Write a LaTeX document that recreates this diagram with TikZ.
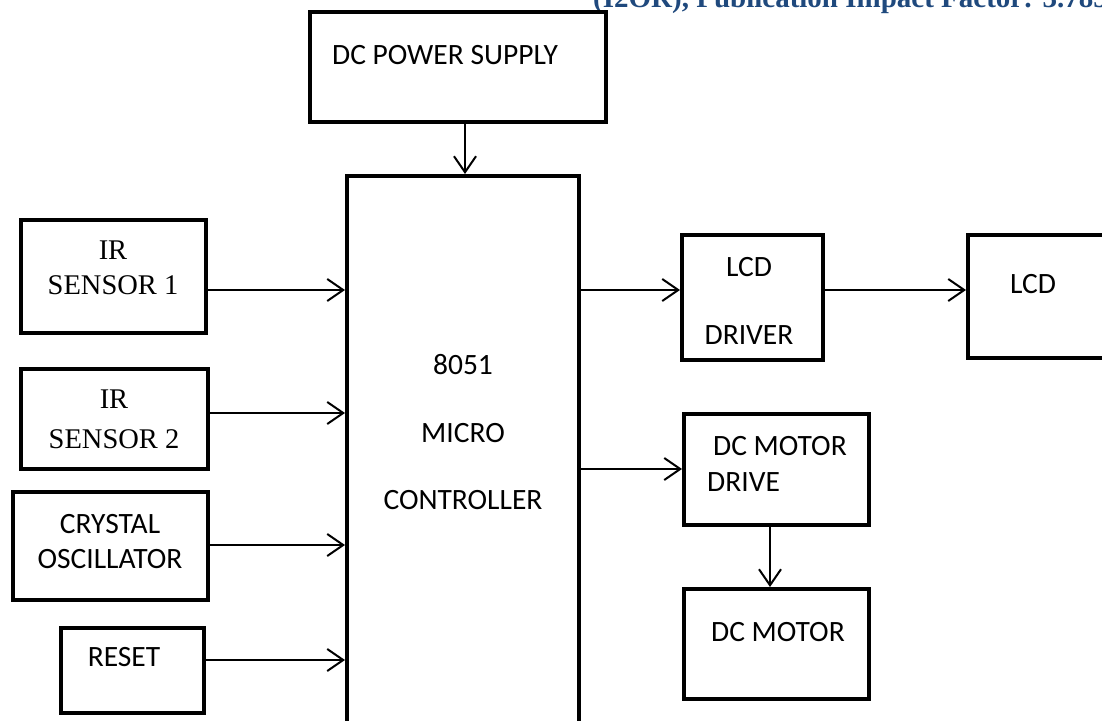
\documentclass[tikz,border=0pt]{standalone}
\usepackage{fontspec}
\setmainfont{Liberation Serif}
\newfontfamily\calfont{Carlito}
\usepackage{xcolor}
\usepackage{tikz}
\usetikzlibrary{arrows.meta}
\definecolor{HeaderBlue}{RGB}{31,73,125}

\tikzset{
  blk/.style={draw,line width=4pt,inner sep=0pt,minimum width=#1},
  sig/.style={-{Straight Barb[length=16pt,width=22pt]},line width=2pt},
  lbl/.style={inner sep=0pt,font=\calfont\fontsize{29.5}{35}\selectfont},
  lblserif/.style={inner sep=0pt,align=center,font=\fontsize{28.5}{35}\selectfont}
}

\begin{document}
\begin{tikzpicture}[x=1pt,y=-1pt]
  \useasboundingbox (0,0) rectangle (1102,720);
  \clip (0,0) rectangle (1102,720);

  % cabecera cortada de la pagina
  \node[anchor=base west,inner sep=0pt,text=HeaderBlue,
        font=\bfseries\fontsize{29}{34}\selectfont] (hdr) at (593,8)
        {(I2OR), Publication Impact Factor: 3.785};

  % bloques
  \node[blk=296pt,minimum height=110pt] (ps)   at (458,67) {};
  \node[blk=232pt,minimum height=594pt] (mc)   at (463,473) {};
  \node[blk=185pt,minimum height=113pt] (ir1)  at (113.5,276.5) {};
  \node[blk=187pt,minimum height=100pt] (ir2)  at (114.5,419) {};
  \node[blk=195pt,minimum height=108pt] (xtal) at (110.5,546) {};
  \node[blk=143pt,minimum height=85pt]  (rst)  at (132.5,670.5) {};
  \node[blk=141pt,minimum height=125pt] (lcdd) at (752.5,297.5) {};
  \node[blk=172pt,minimum height=123pt] (lcd)  at (1054,296.5) {};
  \node[blk=185pt,minimum height=111pt] (dcmd) at (776.5,469.5) {};
  \node[blk=185pt,minimum height=110pt] (mot)  at (776.5,644) {};

  % textos
  \node[lbl,anchor=west] (psT) at (332,55) {DC POWER SUPPLY};
  \node[lbl,align=center,font=\calfont\fontsize{29.5}{67.5}\selectfont] (mcT) at (463,432.5)
        {8051\\MICRO\\CONTROLLER};
  \node[lblserif] (ir1T) at (113,267.5) {IR\\SENSOR 1};
  \node[lblserif,font=\fontsize{28.5}{40}\selectfont] (ir2T) at (114,419.5) {IR\\SENSOR 2};
  \node[lbl,align=center] (xtalT) at (110,541.5) {CRYSTAL\\OSCILLATOR};
  \node[lbl] (rstT) at (124,657) {RESET};
  \node[lbl,align=center,font=\calfont\fontsize{29.5}{68}\selectfont] (lcddT) at (749,301)
        {LCD\\DRIVER};
  \node[lbl] (lcdT) at (1033,284) {LCD};
  \node[lbl,align=left,anchor=west,font=\calfont\fontsize{29.5}{36}\selectfont] (dcmdT) at (707,464)
        {\hspace{6pt}DC MOTOR\\DRIVE};
  \node[lbl] (motT) at (778,632) {DC MOTOR};

  % filas y columnas de las flechas
  \coordinate (r1) at (0,290);
  \coordinate (r2) at (0,413);
  \coordinate (r3) at (0,545);
  \coordinate (r4) at (0,660);
  \coordinate (r5) at (0,469);
  \coordinate (c1) at (465,0);
  \coordinate (c2) at (770,0);

  % conexiones
  \draw[sig] (ps.south -| c1) -- (mc.north -| c1);
  \draw[sig] (ir1.east |- r1) -- (mc.west |- r1);
  \draw[sig] (ir2.east |- r2) -- (mc.west |- r2);
  \draw[sig] (xtal.east |- r3) -- (mc.west |- r3);
  \draw[sig] (rst.east |- r4) -- (mc.west |- r4);
  \draw[sig] (mc.east |- r1) -- (lcdd.west |- r1);
  \draw[sig] (lcdd.east |- r1) -- (lcd.west |- r1);
  \draw[sig] (mc.east |- r5) -- (dcmd.west |- r5);
  \draw[sig] (dcmd.south -| c2) -- (mot.north -| c2);
\end{tikzpicture}
\end{document}
